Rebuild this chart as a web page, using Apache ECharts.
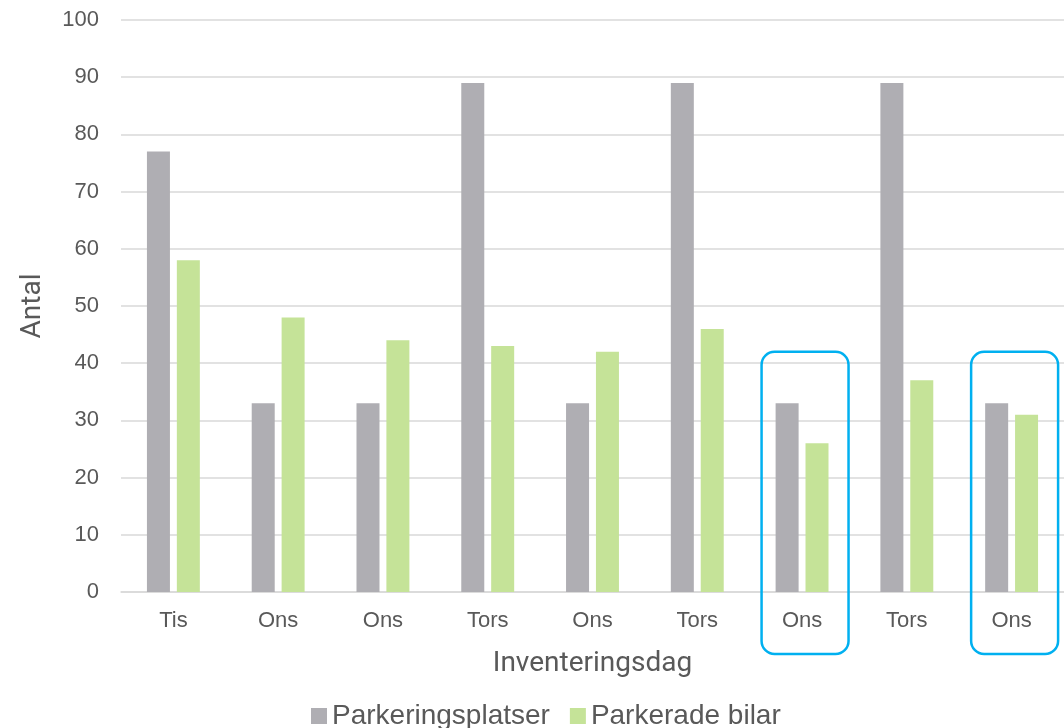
<!DOCTYPE html>
<html>
<head>
<meta charset="utf-8">
<script src="https://cdn.jsdelivr.net/npm/echarts@6/dist/echarts.min.js"></script>
<style>
  html, body { margin: 0; padding: 0; background: #fff; }
  #chart { width: 1064px; height: 728px; }
</style>
</head>
<body>
<div id="chart"></div>
<script>
// Inventory days and counts
const categories = ['Tis', 'Ons', 'Ons', 'Tors', 'Ons', 'Tors', 'Ons', 'Tors', 'Ons'];
const parkingSpaces = [77, 33, 33, 89, 33, 89, 33, 89, 33];
const parkedCars = [58, 48, 44, 43, 42, 46, 26, 37, 31];
const seriesNames = ['Parkeringsplatser', 'Parkerade bilar'];
// Days outlined with a highlight frame, and the value where each frame starts
const highlighted = [6, 8];
const frameTopValue = 42;

const chart = echarts.init(document.getElementById('chart'));
const labelFont = 'Liberation Sans, Arial, sans-serif';
const titleFont = 'Roboto, sans-serif';

chart.setOption({
  animation: false,
  grid: { left: 121, right: 0, top: 20, bottom: 136 },
  legend: {
    top: 697,
    left: 306,
    itemWidth: 16,
    itemHeight: 16,
    itemGap: 20,
    icon: 'rect',
    textStyle: { fontFamily: labelFont, fontSize: 28, color: '#595959', padding: [0, 0, 0, 0] },
    data: seriesNames
  },
  xAxis: {
    type: 'category',
    data: categories,
    name: 'Inventeringsdag',
    nameLocation: 'middle',
    nameGap: 58,
    nameTextStyle: { fontFamily: titleFont, fontWeight: 400, fontSize: 28, color: '#595959' },
    axisLine: { lineStyle: { color: '#d9d9d9', width: 1.5 } },
    axisTick: { show: false },
    axisLabel: { fontFamily: labelFont, fontSize: 22, color: '#595959', margin: 18 }
  },
  yAxis: {
    type: 'value',
    min: 0,
    max: 100,
    interval: 10,
    name: 'Antal',
    nameLocation: 'middle',
    nameGap: 74,
    nameTextStyle: { fontFamily: titleFont, fontWeight: 400, fontSize: 28, color: '#595959' },
    axisLine: { show: false },
    axisTick: { show: false },
    axisLabel: { fontFamily: labelFont, fontSize: 22, color: '#595959', margin: 22 },
    splitLine: { lineStyle: { color: '#d9d9d9', width: 1.5 } }
  },
  series: [
    {
      name: seriesNames[0],
      type: 'bar',
      data: parkingSpaces,
      barWidth: 23,
      barGap: '30%',
      itemStyle: { color: '#afaeb3' }
    },
    {
      name: seriesNames[1],
      type: 'bar',
      data: parkedCars,
      barWidth: 23,
      itemStyle: { color: '#c5e398' }
    }
  ]
});

// Rounded frames around the highlighted days, placed from the axis scales
function drawFrames() {
  const p0 = chart.convertToPixel({ seriesIndex: 0 }, [0, 0]);
  const p1 = chart.convertToPixel({ seriesIndex: 0 }, [1, 0]);
  const step = p1[0] - p0[0];
  const frameW = step * 0.83;
  const elements = highlighted.map(function (idx) {
    const top = chart.convertToPixel({ seriesIndex: 0 }, [idx, frameTopValue]);
    const base = chart.convertToPixel({ seriesIndex: 0 }, [idx, 0]);
    const cx = top[0] + 3;
    return {
      type: 'rect',
      shape: { x: cx - frameW / 2, y: top[1], width: frameW, height: base[1] - top[1] + 62, r: 13 },
      style: { fill: 'none', stroke: '#00b0f0', lineWidth: 2.5 },
      z: 10
    };
  });
  chart.setOption({ graphic: elements });
}
drawFrames();
</script>
</body>
</html>
